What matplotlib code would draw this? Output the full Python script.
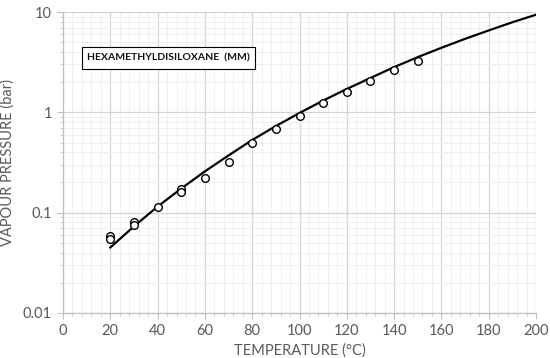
import matplotlib
matplotlib.use("Agg")
import matplotlib.pyplot as plt
from matplotlib.patches import Rectangle
from matplotlib.ticker import FixedLocator, LogLocator, FixedFormatter

plt.rcParams["font.family"] = ["Lato", "DejaVu Sans"]

# measured vapour pressure (bar) vs temperature (C)
exp_temp = [20, 20, 30, 30, 40, 50, 50, 60, 70, 80, 90, 100, 110, 120, 130, 140, 150]
exp_pres = [0.059, 0.055, 0.080, 0.076, 0.115, 0.174, 0.159, 0.224, 0.32, 0.49,
            0.69, 0.91, 1.23, 1.58, 2.04, 2.63, 3.24]

# model curve
fit_temp = [20, 30, 40, 50, 60, 70, 80, 90, 100, 110, 120, 130, 140, 150,
            160, 170, 180, 190, 200]
fit_pres = [0.045, 0.073, 0.115, 0.174, 0.258, 0.372, 0.53, 0.73, 0.985, 1.31,
            1.71, 2.2, 2.82, 3.55, 4.4, 5.4, 6.55, 7.9, 9.4]

x_ticks = [0, 20, 40, 60, 80, 100, 120, 140, 160, 180, 200]
y_ticks = [0.01, 0.1, 1, 10]
y_tick_labels = ["0.01", "0.1", "1", "10"]

fig = plt.figure(figsize=(5.5, 3.58), dpi=100)
ax = fig.add_axes([63 / 550, 1 - 313 / 358, 473 / 550, 301 / 358])

ax.set_yscale("log")
ax.set_xlim(0, 200)
ax.set_ylim(0.01, 10)

ax.xaxis.set_major_locator(FixedLocator(x_ticks))
ax.xaxis.set_minor_locator(FixedLocator(range(0, 201, 4)))
ax.yaxis.set_major_locator(FixedLocator(y_ticks))
ax.yaxis.set_major_formatter(FixedFormatter(y_tick_labels))
ax.yaxis.set_minor_locator(LogLocator(base=10, subs=range(2, 10)))
ax.yaxis.set_minor_formatter(plt.NullFormatter())

ax.grid(which="major", color="#d4d4d4", linewidth=0.9)
ax.grid(which="minor", color="#ececec", linewidth=0.6)
ax.set_axisbelow(True)

for side in ["top", "right"]:
    ax.spines[side].set_visible(False)
for side in ["left", "bottom"]:
    ax.spines[side].set_color("#bfbfbf")
    ax.spines[side].set_linewidth(0.9)

ax.tick_params(which="major", length=4, color="#bfbfbf", labelsize=10.5, labelcolor="#595959", pad=4)
ax.tick_params(which="minor", length=2.5, color="#bfbfbf")

ax.plot(fit_temp, fit_pres, color="black", linewidth=1.6, zorder=3)
ax.plot(exp_temp, exp_pres, linestyle="none", marker="o", markersize=5.5,
        markerfacecolor="white", markeredgecolor="black", markeredgewidth=1.0, zorder=4)

ax.set_xlabel("TEMPERATURE (°C)", fontsize=10.5, color="#595959", labelpad=4)
ax.set_ylabel("VAPOUR PRESSURE (bar)", fontsize=10.5, color="#595959", labelpad=6)

# title box
ax.add_patch(Rectangle((0.040, 0.811), 0.366, 0.073, transform=ax.transAxes,
                       facecolor="white", edgecolor="black", linewidth=0.8, zorder=5))
ax.text(0.223, 0.846, "HEXAMETHYLDISILOXANE  (MM)", transform=ax.transAxes,
        fontsize=7.5, fontweight="bold", color="#111111", va="center", ha="center",
        zorder=6)

fig.savefig("out.png", dpi=100)
